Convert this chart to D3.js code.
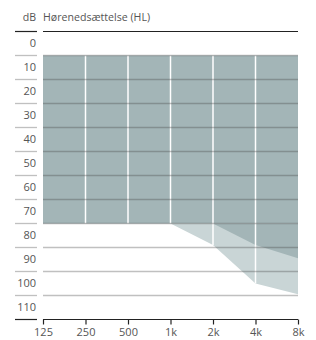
<!DOCTYPE html>
<html>
<head>
<meta charset="utf-8">
<script src="https://cdn.jsdelivr.net/npm/d3@7"></script>
<style>
  body { margin: 0; background: #fff; }
  text { font-family: "Open Sans", "DejaVu Sans", sans-serif; fill: #555; }
</style>
</head>
<body>
<div class="chart"></div>
<script>
// ---- data ----
var freqs = ["125", "250", "500", "1k", "2k", "4k", "8k"];
var dbTicks = [0, 10, 20, 30, 40, 50, 60, 70, 80, 90, 100, 110];
// main hearing-loss band (dB HL)
var bandTop = 10;
var bandBottom = 80;
// lower edge of the light extension, per frequency
var lightEdge = [80, 80, 80, 80, 89, 105, 109.5];
// lower edge of the dark extension, per frequency
var darkEdge = [80, 80, 80, 80, 80, 89, 94.5];

var svgWidth = 316;
var svgHeight = 340;

var svg = d3.select(".chart")
    .append("svg")
    .attr("width", svgWidth)
    .attr("height", svgHeight);

// scales
var x = d3.scalePoint()
    .domain(freqs)
    .range([43, 298]);

var y = d3.scaleLinear()
    .domain([0, 120])
    .range([31.5, 319.5]);

var rows = freqs.map(function (f, i) {
    return { f: f, light: lightEdge[i], dark: darkEdge[i] };
});

// light extension
svg.append("path")
    .datum(rows.slice(3))
    .attr("fill", "#c9d5d6")
    .attr("d", d3.area()
        .x(d => x(d.f))
        .y0(y(bandBottom))
        .y1(d => y(d.light)));

// dark band
svg.append("path")
    .datum(rows)
    .attr("fill", "#a3b5b7")
    .attr("d", d3.area()
        .x(d => x(d.f))
        .y0(y(bandTop))
        .y1(y(bandBottom)));

// dark extension
svg.append("path")
    .datum(rows.slice(4))
    .attr("fill", "#a3b5b7")
    .attr("d", d3.area()
        .x(d => x(d.f))
        .y0(y(bandBottom))
        .y1(d => y(d.dark)));

// white frequency lines inside shading
svg.selectAll(".vline")
    .data(rows.slice(1, -1))
    .enter()
    .append("line")
    .attr("x1", d => x(d.f))
    .attr("x2", d => x(d.f))
    .attr("y1", y(bandTop))
    .attr("y2", d => y(d.light))
    .attr("stroke", "#fff")
    .attr("stroke-width", 1.5);

// horizontal grid (left stub + plot segment)
var gridVals = dbTicks.slice(1);
[[15, 37], [43, 298]].forEach(function (seg) {
    svg.selectAll(null)
        .data(gridVals)
        .enter()
        .append("line")
        .attr("x1", seg[0])
        .attr("x2", seg[1])
        .attr("y1", d => y(d))
        .attr("y2", d => y(d))
        .attr("stroke", "rgba(70,70,70,0.34)")
        .attr("stroke-width", 1.3);
});

// top and bottom black rules
[0, 120].forEach(function (v) {
    [[15, 37], [43, 298]].forEach(function (seg) {
        svg.append("line")
            .attr("x1", seg[0])
            .attr("x2", seg[1])
            .attr("y1", y(v))
            .attr("y2", y(v))
            .attr("stroke", "#222")
            .attr("stroke-width", 1.2);
    });
});

// y labels sit in the middle of each row
svg.selectAll(".ylab")
    .data(dbTicks)
    .enter()
    .append("text")
    .attr("x", 36)
    .attr("y", d => y(d + 5))
    .attr("dy", "0.36em")
    .attr("text-anchor", "end")
    .style("font-size", "11px")
    .text(d => d);

// x axis
var xAxis = svg.append("g")
    .attr("transform", `translate(0, ${y(120)})`)
    .call(d3.axisBottom(x).tickSize(5).tickPadding(4));
xAxis.select(".domain").remove();
xAxis.selectAll("line").attr("stroke", "#222").attr("stroke-width", 1.2);
xAxis.selectAll("text")
    .style("font-size", "11px")
    .style("font-family", "\"Open Sans\", sans-serif")
    .attr("fill", "#555");

// title
svg.append("text")
    .attr("x", 36)
    .attr("y", 21)
    .attr("text-anchor", "end")
    .style("font-size", "10.6px")
    .text("dB");
svg.append("text")
    .attr("x", 43)
    .attr("y", 21)
    .style("font-size", "10.6px")
    .text("Hørenedsættelse (HL)");
</script>
</body>
</html>
